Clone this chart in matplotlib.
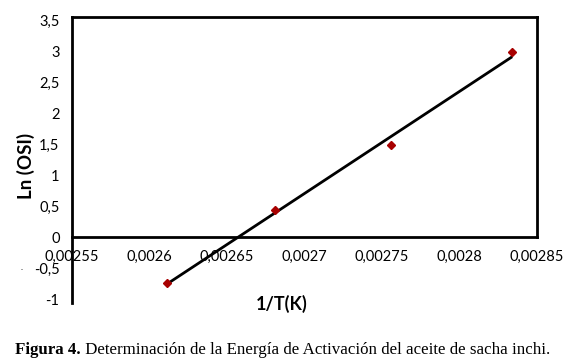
import numpy as np
import matplotlib
matplotlib.use("Agg")
import matplotlib.pyplot as plt

# data
inv_temp = [0.002611, 0.002681, 0.002756, 0.002834]
ln_osi = [-0.74, 0.44, 1.48, 2.99]

x_ticks = [0.00255, 0.0026, 0.00265, 0.0027, 0.00275, 0.0028, 0.00285]
x_labels = ["0,00255", "0,0026", "0,00265", "0,0027", "0,00275", "0,0028", "0,00285"]
y_ticks = [-1, -0.5, 0, 0.5, 1, 1.5, 2, 2.5, 3, 3.5]
y_labels = ["-1", "-0,5", "0", "0,5", "1", "1,5", "2", "2,5", "3", "3,5"]

caption_bold = "Figura 4."
caption_text = " Determinación de la Energía de Activación del aceite de sacha inchi."

W, H = 569, 364
fig = plt.figure(figsize=(W / 100, H / 100), dpi=100)
ax = fig.add_axes([72 / W, 1 - 303 / H, (537 - 72) / W, (303 - 17) / H])

# linear trendline like the spreadsheet one
slope, icpt = np.polyfit(inv_temp, ln_osi, 1)
xs = np.array([min(inv_temp), max(inv_temp)])
ax.plot(xs, slope * xs + icpt, color="black", lw=2.0, solid_capstyle="butt", zorder=2)
ax.plot(inv_temp, ln_osi, "D", color="#a80000", markersize=4.5, zorder=3)

ytop, ybot = 3.55, -1.06
ax.set_xlim(0.00255, 0.00285)
ax.set_ylim(ybot, ytop)

for s in ax.spines.values():
    s.set_linewidth(2.0)
    s.set_color("black")
ax.spines["bottom"].set_position(("data", 0))
ax.spines["right"].set_bounds(0, ytop)

tick_font = dict(family="Lato", size=10.5)
ax.set_xticks(x_ticks)
ax.set_xticklabels(x_labels, **tick_font)
ax.set_yticks(y_ticks)
ax.set_yticklabels(y_labels, **tick_font)
ax.tick_params(axis="both", length=0)
ax.tick_params(axis="x", pad=9)
ax.tick_params(axis="y", pad=9)

fig.text(26 / W, 1 - 166 / H, "Ln (OSI)", rotation=90, ha="center", va="center",
         family="Lato", weight="bold", size=13.5)
fig.text(282 / W, 1 - 304 / H, "1/T(K)", ha="center", va="center",
         family="Lato", weight="bold", size=13)
fig.text(22 / W, 1 - 271 / H, "·", ha="center", va="center", color="#666666", size=9)

t1 = fig.text(15 / W, 1 - 350 / H, caption_bold, ha="left", va="center",
              family="Liberation Serif", weight="bold", size=12.2)
fig.canvas.draw()
bb = t1.get_window_extent()
fig.text(bb.x1 / W, 1 - 350 / H, caption_text, ha="left", va="center",
         family="Liberation Serif", size=12.2)

fig.savefig("out.png", dpi=100)
